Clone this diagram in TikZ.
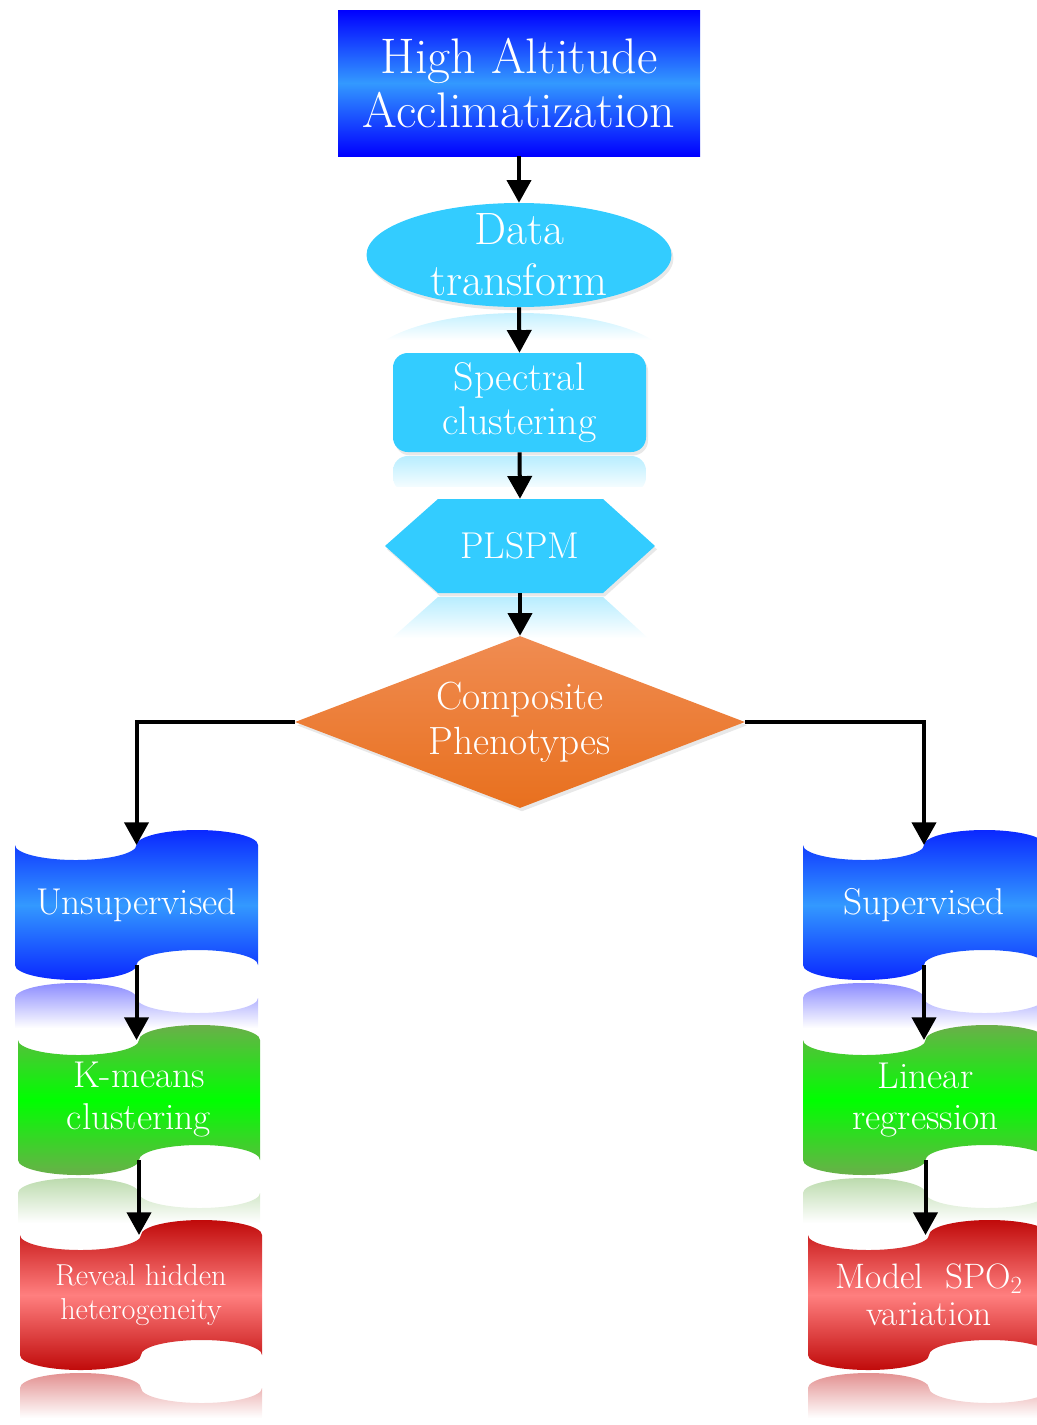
\documentclass[tikz,border=0pt]{standalone}
\usepackage{fontspec}
\usetikzlibrary{shapes.geometric,arrows.meta,shadows}
\definecolor{sky}{HTML}{33CCFF}
\definecolor{bdeep}{HTML}{0000FF}
\definecolor{blite}{HTML}{3399FF}
\definecolor{bflag}{HTML}{0A28FF}
\definecolor{gdark}{HTML}{6AAF4A}
\definecolor{glite}{HTML}{00FF00}
\definecolor{rdark}{HTML}{C00A0A}
\definecolor{rlite}{HTML}{FF7F7F}
\definecolor{otop}{HTML}{F08C52}
\definecolor{obot}{HTML}{E8701E}
\newcommand\fsz[2]{\fontsize{#1}{#2}\selectfont}
% #1 name, #2 L, #3 R, #4 T, #5 B, #6 edge colour, #7 middle colour, #8 reflection colour
\newcommand\myflag[8]{%
  \pgfmathsetmacro\fM{(#2+#3)/2}%
  \pgfmathsetmacro\fRx{(#3-#2)/4}%
  \pgfmathsetmacro\fY{#5+33}%
  \pgfmathsetmacro\fYb{\fY+30}%
  \shade[top color=#8, bottom color=white] (#2,\fY)
     arc[start angle=180,end angle=360,x radius=\fRx,y radius=15]
     arc[start angle=180,end angle=0,x radius=\fRx,y radius=15]
     -- (#3,\fYb) -- (#2,\fYb) -- cycle;
  \shade[top color=#6, bottom color=#6, middle color=#7] (#2,#4)
     arc[start angle=180,end angle=0,x radius=\fRx,y radius=15]
     arc[start angle=180,end angle=360,x radius=\fRx,y radius=15]
     -- (#3,#5)
     arc[start angle=0,end angle=-180,x radius=\fRx,y radius=15]
     arc[start angle=0,end angle=180,x radius=\fRx,y radius=15]
     -- cycle;
  \coordinate (#1-top) at (\fM,#4);
  \coordinate (#1-bot) at (\fM,#5);
  \coordinate (#1-c) at (\fM,{(#4+#5)/2});
}
\tikzset{
  txt/.style={text=white, align=center, inner sep=0pt},
  sh/.style={drop shadow={opacity=0.18, shadow xshift=1.5pt, shadow yshift=-2.5pt}},
  arr/.style={line width=3pt, -{Triangle[width=18pt,length=17pt]}},
}
\begin{document}
\begin{tikzpicture}[x=0.75pt, y=-0.75pt]
\useasboundingbox (0,0) rectangle (1037,1425);

% top box
\node[txt, top color=bdeep, bottom color=bdeep, middle color=blite,
      minimum width=271.5pt, minimum height=109.5pt, font=\fsz{37.5}{41}]
      (haa) at (519,83) {High Altitude\\Acclimatization};

% ellipse
\begin{scope}
  \clip (519,365) ellipse [x radius=152, y radius=52];
  \shade[top color=sky!30, bottom color=white] (360,312) rectangle (680,340);
\end{scope}
\node[ellipse, fill=sky, sh, minimum width=228.75pt, minimum height=78pt, inner sep=0pt,
      label={[txt, font=\fsz{34}{38}]center:{Data\\transform}}] (dt) at (519,255) {};

% rounded rectangle
\begin{scope}
  \clip (393,456) rectangle (646,486);
  \shade[top color=sky!35, bottom color=white, rounded corners=11pt] (393,456) rectangle (646,492);
\end{scope}
\node[txt, fill=sky, sh, rounded corners=11pt, minimum width=189.75pt, minimum height=74.25pt,
      font=\fsz{30}{33}] (sc) at (519.5,402.5) {Spectral\\clustering};

% hexagon
\shade[top color=sky!35, bottom color=white] (438,597) -- (603,597) -- (648,638) -- (392,638) -- cycle;
\path[fill=sky, sh] (385,546) -- (438,499) -- (603,499) -- (655,546) -- (603,593) -- (438,593) -- cycle;
\node[txt, minimum width=202.5pt, minimum height=70.5pt, font=\fsz{28}{30}] (pl) at (520,546) {PLSPM};

% diamond
\node[diamond, top color=otop, bottom color=obot, sh, minimum width=337.5pt, minimum height=129pt,
      inner sep=0pt, label={[txt, font=\fsz{29.5}{34}]center:{Composite\\Phenotypes}}] (cp) at (520,722) {};

% flags
\myflag{uns}{15}{258}{845}{965}{bflag}{blite}{bdeep!45!white}
\myflag{km}{18}{260}{1040}{1160}{gdark}{glite}{gdark!45!white}
\myflag{rh}{20}{262}{1235}{1355}{rdark}{rlite}{rdark!45!white}
\myflag{sup}{803}{1045}{845}{965}{bflag}{blite}{bdeep!45!white}
\myflag{lr}{803}{1048}{1040}{1160}{gdark}{glite}{gdark!45!white}
\myflag{ms}{808}{1050}{1235}{1355}{rdark}{rlite}{rdark!45!white}

\node[txt, font=\fsz{28}{31}] (uns) at (uns-c) {Unsupervised};
\node[txt, font=\fsz{28}{31.5}] (km) at (km-c) {K-means\\clustering};
\node[txt, font=\fsz{22.7}{26}] (rh) at (rh-c) {Reveal hidden\\heterogeneity};
\node[txt, font=\fsz{28}{31}] (sup) at (sup-c) {Supervised};
\node[txt, font=\fsz{28}{31}] (lr) at (lr-c) {Linear\\regression};
\node[txt, font=\fsz{26.5}{28}] (ms) at (ms-c) {Model\ \ SPO\textsubscript{2}\\variation};

% connectors
\draw[arr] (haa.south) -- (dt.north);
\draw[arr] (dt.south) -- (sc.north);
\draw[arr] (sc.south) -- (pl.north);
\draw[arr] (pl.south) -- (cp.north);
\draw[arr] (cp.west) -| (uns-top);
\draw[arr] (cp.east) -| (sup-top);
\draw[arr] (uns-bot) -- (uns-bot |- km-top);
\draw[arr] (km-bot) -- (km-bot |- rh-top);
\draw[arr] (sup-bot) -- (sup-bot |- lr-top);
\draw[arr] (lr-bot) -- (lr-bot |- ms-top);
\end{tikzpicture}
\end{document}
